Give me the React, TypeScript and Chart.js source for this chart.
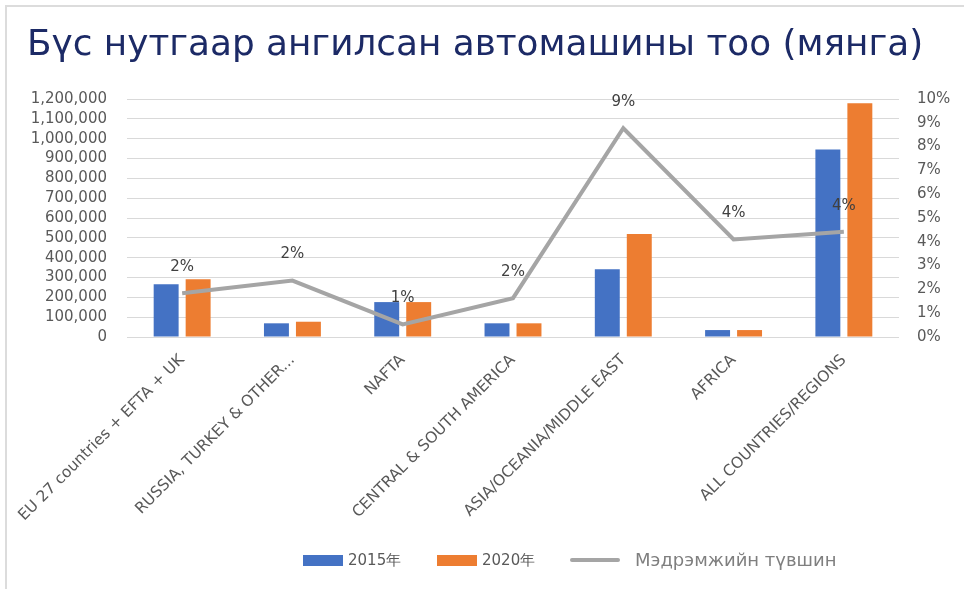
import React, { useEffect, useRef } from "react";
import { Chart, registerables } from "chart.js";

Chart.register(...registerables);

const categories = [
  "EU 27 countries + EFTA + UK",
  "RUSSIA, TURKEY & OTHER...",
  "NAFTA",
  "CENTRAL & SOUTH AMERICA",
  "ASIA/OCEANIA/MIDDLE EAST",
  "AFRICA",
  "ALL COUNTRIES/REGIONS",
];
const values2015 = [266000, 69000, 176000, 69000, 341000, 35000, 946000];
const values2020 = [291000, 77000, 176000, 69000, 519000, 35000, 1178000];
const sensitivity = [1.84, 2.37, 0.53, 1.63, 8.77, 4.1, 4.42];
const seriesNames = ["2015年", "2020年", "Мэдрэмжийн түвшин"];
const titleText = "Бүс нутгаар ангилсан автомашины тоо (мянга)";

const FONT = "'DejaVu Sans', sans-serif";
const GRAY_TEXT = "#595959";

export default function App() {
  const ref = useRef<HTMLCanvasElement>(null);

  useEffect(() => {
    const canvas = ref.current;
    if (!canvas) return;
    const labelPlugin = {
      id: "lineLabels",
      afterDatasetsDraw(chart: any) {
        const meta = chart.getDatasetMeta(2);
        const c = chart.ctx;
        c.save();
        c.font = `15px ${FONT}`;
        c.fillStyle = "#404040";
        c.textAlign = "center";
        c.textBaseline = "middle";
        meta.data.forEach((pt: any, i: number) => {
          c.fillText(Math.round(sensitivity[i]) + "%", pt.x, pt.y - 26);
        });
        c.restore();
      },
    };
    const chart = new Chart(canvas, {
      type: "bar",
      data: {
        labels: categories,
        datasets: [
          {
            type: "bar",
            label: seriesNames[0],
            data: values2015,
            backgroundColor: "#4472C4",
            yAxisID: "y",
            barPercentage: 0.78,
            categoryPercentage: 0.58,
            order: 1,
          },
          {
            type: "bar",
            label: seriesNames[1],
            data: values2020,
            backgroundColor: "#ED7D31",
            yAxisID: "y",
            barPercentage: 0.78,
            categoryPercentage: 0.58,
            order: 2,
          },
          {
            type: "line",
            label: seriesNames[2],
            data: sensitivity,
            borderColor: "#A5A5A5",
            backgroundColor: "#A5A5A5",
            borderWidth: 4,
            pointRadius: 0,
            tension: 0,
            yAxisID: "y1",
            order: 0,
          } as any,
        ],
      },
      options: {
        responsive: false,
        animation: false,
        layout: { padding: { top: 99, left: 0, right: 0, bottom: 0 } },
        plugins: {
          legend: { display: false },
          tooltip: { enabled: false },
          title: { display: false },
        },
        scales: {
          x: {
            grid: { display: false },
            border: { display: false },
            ticks: {
              autoSkip: false,
              maxRotation: 45,
              minRotation: 45,
              color: GRAY_TEXT,
              font: { family: FONT, size: 15.5 },
              padding: 6,
            },
            afterFit(scale: any) {
              scale.height = 252;
            },
          },
          y: {
            position: "left",
            min: 0,
            max: 1200000,
            grid: { color: "#D9D9D9", drawTicks: false, lineWidth: 1 },
            border: { display: false },
            ticks: {
              autoSkip: false,
              stepSize: 100000,
              padding: 20,
              color: GRAY_TEXT,
              font: { family: FONT, size: 15 },
              callback: (v: any) => Number(v).toLocaleString("en-US"),
            },
            afterFit(scale: any) {
              scale.width = 127;
            },
          },
          y1: {
            position: "right",
            min: 0,
            max: 10,
            grid: { display: false, drawTicks: false },
            border: { display: false },
            ticks: {
              autoSkip: false,
              stepSize: 1,
              padding: 18,
              color: GRAY_TEXT,
              font: { family: FONT, size: 15 },
              callback: (v: any) => v + "%",
            },
            afterFit(scale: any) {
              scale.width = 65;
            },
          },
        },
      },
      plugins: [labelPlugin],
    });
    return () => chart.destroy();
  }, []);

  return (
    <div
      style={{
        position: "absolute",
        left: 0,
        top: 0,
        width: 964,
        height: 589,
        background: "#fff",
        overflow: "hidden",
      }}
    >
      <div
        style={{
          position: "absolute",
          left: 5,
          top: 5,
          width: 3000,
          height: 3000,
          borderTop: "2px solid #DCDCDC",
          borderLeft: "2px solid #DCDCDC",
          borderRight: "none",
          borderBottom: "none",
        }}
      />
      <canvas
        ref={ref}
        width={964}
        height={589}
        style={{ position: "absolute", left: 0, top: 0, width: 964, height: 589 }}
      />
      <div
        style={{
          position: "absolute",
          left: 27,
          top: 17,
          fontFamily: FONT,
          fontSize: 35.8,
          color: "#1C2A66",
          whiteSpace: "nowrap",
          lineHeight: "52px",
        }}
      >
        {titleText}
      </div>
      <div style={{ position: "absolute", left: 303, top: 555, width: 40, height: 11, background: "#4472C4" }} />
      <div
        style={{
          position: "absolute",
          left: 348,
          top: 549,
          fontFamily: FONT,
          fontSize: 15,
          color: GRAY_TEXT,
          lineHeight: "22px",
          whiteSpace: "nowrap",
        }}
      >
        {seriesNames[0]}
      </div>
      <div style={{ position: "absolute", left: 437, top: 555, width: 40, height: 11, background: "#ED7D31" }} />
      <div
        style={{
          position: "absolute",
          left: 482,
          top: 549,
          fontFamily: FONT,
          fontSize: 15,
          color: GRAY_TEXT,
          lineHeight: "22px",
          whiteSpace: "nowrap",
        }}
      >
        {seriesNames[1]}
      </div>
      <div
        style={{
          position: "absolute",
          left: 570,
          top: 558,
          width: 50,
          height: 4,
          borderRadius: 2,
          background: "#A5A5A5",
        }}
      />
      <div
        style={{
          position: "absolute",
          left: 635,
          top: 547,
          fontFamily: FONT,
          fontSize: 18,
          color: "#7F7F7F",
          lineHeight: "26px",
          whiteSpace: "nowrap",
        }}
      >
        {seriesNames[2]}
      </div>
    </div>
  );
}
